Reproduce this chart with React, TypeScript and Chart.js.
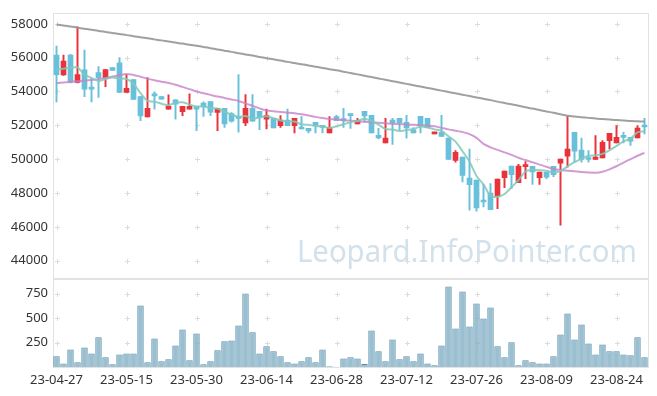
import React, { useEffect, useRef } from "react";
import { Chart, registerables } from "chart.js";

Chart.register(...registerables);

const dates = [
  "23-04-27","23-04-28","23-05-02","23-05-03","23-05-04","23-05-08","23-05-09","23-05-10","23-05-11","23-05-12",
  "23-05-15","23-05-16","23-05-17","23-05-18","23-05-19","23-05-22","23-05-23","23-05-24","23-05-25","23-05-26",
  "23-05-30","23-05-31","23-06-01","23-06-02","23-06-05","23-06-07","23-06-08","23-06-09","23-06-12","23-06-13",
  "23-06-14","23-06-15","23-06-16","23-06-19","23-06-20","23-06-21","23-06-22","23-06-23","23-06-26","23-06-27",
  "23-06-28","23-06-29","23-06-30","23-07-03","23-07-04","23-07-05","23-07-06","23-07-07","23-07-10","23-07-11",
  "23-07-12","23-07-13","23-07-14","23-07-17","23-07-18","23-07-19","23-07-20","23-07-21","23-07-24","23-07-25",
  "23-07-26","23-07-27","23-07-28","23-07-31","23-08-01","23-08-02","23-08-03","23-08-04","23-08-07","23-08-08",
  "23-08-09","23-08-10","23-08-11","23-08-14","23-08-16","23-08-17","23-08-18","23-08-21","23-08-22","23-08-23",
  "23-08-24","23-08-25","23-08-28","23-08-29","23-08-30",
];

const opens = [
  56150,54980,56150,54530,55280,54160,55120,54780,55410,55700,
  53940,54700,53700,52490,53800,53700,52960,53510,52800,52960,
  53120,53310,53410,52765,53000,52700,52440,52140,53000,52820,
  52370,52410,51980,52310,51980,51880,51820,52180,51900,51550,
  52510,52300,52700,52080,52820,52590,51410,50960,52310,52410,
  52180,51730,52530,52410,51490,51590,51240,49920,50120,48880,
  48770,47500,48000,47820,48900,49590,48610,49560,49570,48900,
  49240,49570,49770,50180,51590,50530,50000,49980,50080,51100,
  50960,51300,51290,51250,51920,
];

const highs = [
  56690,56150,56200,57820,56450,54770,55470,55290,55410,56000,
  55000,54700,53700,54820,53980,53700,53800,53510,53120,53860,
  53120,53390,53410,53000,53000,52760,55000,53820,53820,52820,
  52960,52410,52570,52960,52410,52510,51820,52180,52000,52510,
  52590,53000,52700,52410,52820,52590,51820,52410,52410,52410,
  52590,51860,52530,52410,51590,52590,51240,50510,50120,50600,
  48770,48510,48550,48820,49290,49590,49690,49860,49570,49240,
  49240,49570,50000,52530,51590,51240,50500,51390,51100,51530,
  51980,51590,51290,51980,52410,
];

const lows = [
  53390,54950,54500,54500,53690,53390,53650,54290,55250,53940,
  53940,53530,52280,52490,52960,53550,52960,52370,52570,52960,
  51690,52530,52570,51690,51880,52180,51590,51980,52240,51750,
  51780,51840,51880,51980,51550,51780,51550,51550,51550,51550,
  52280,51880,51820,52080,52180,51550,51190,50960,50870,51700,
  51240,51550,51550,51860,51490,51350,49980,49820,48650,46980,
  46920,47180,47020,47080,48310,48250,48610,48840,48510,48510,
  48840,48960,46100,49530,49820,49820,49820,49980,50080,50610,
  50960,50960,50810,51250,51490,
];

const closes = [
  55000,55800,54530,55000,54140,54140,54820,55290,55250,53940,
  54180,53530,52550,53000,53740,53550,53120,53250,53120,53120,
  52960,53120,52770,53000,52080,52240,52410,53000,52240,52470,
  52570,51840,52310,51980,52410,51780,51670,51980,51880,51880,
  52280,52280,52570,52290,52550,51550,51250,51240,52140,52140,
  51840,51550,51980,51860,51590,51350,49980,50410,49040,48490,
  47120,47470,47020,48820,49290,49080,49590,49590,49240,49240,
  48940,49080,50000,50590,50470,49980,49980,50120,51000,51530,
  51290,51290,51060,51840,51900,
];

const volumes = [
  109,37,180,48,200,139,303,99,27,129,
  139,139,629,48,292,58,78,221,384,68,
  343,27,58,170,262,272,425,751,354,139,
  211,160,109,48,37,58,99,48,180,7,
  3,88,99,88,31,374,160,58,282,78,
  109,58,139,37,17,221,823,394,772,415,
  649,496,609,211,99,252,17,68,48,37,
  37,109,333,547,282,435,241,129,231,160,
  160,129,119,303,99,
];

const ma5 = [
  55280,55350,55400,55420,55000,54800,54620,54740,54820,54760,
  54740,54460,53900,53450,53400,53280,53190,53330,53360,53230,
  53110,53110,53020,52990,52790,52640,52500,52550,52390,52470,
  52540,52420,52290,52230,52220,52060,52030,51960,51940,51840,
  51940,52060,52180,52260,52390,52250,52040,51780,51750,51660,
  51720,51780,51930,51870,51760,51670,51350,51040,50470,49850,
  49010,48510,47830,47780,47940,48340,48760,49270,49360,49350,
  49320,49220,49300,49570,49820,50020,50200,50230,50310,50520,
  50780,51050,51210,51580,51650,
];

const ma20 = [
  54490,54530,54570,54610,54640,54680,54730,54800,54880,54960,
  55040,54980,54870,54760,54660,54580,54500,54400,54270,54140,
  54000,53900,53800,53700,53620,53530,53440,53300,53150,53000,
  52880,52830,52790,52750,52710,52650,52580,52500,52430,52380,
  52340,52300,52270,52240,52210,52180,52150,52120,52090,52070,
  52050,52030,52010,51990,51940,51850,51760,51680,51600,51480,
  51260,50900,50700,50550,50400,50250,50080,49950,49820,49680,
  49550,49420,49360,49320,49280,49240,49210,49200,49260,49400,
  49580,49800,50000,50200,50370,
];

const ma120 = [
  57960,57900,57840,57770,57710,57650,57580,57520,57460,57400,
  57330,57270,57210,57140,57080,57020,56950,56890,56830,56760,
  56700,56630,56560,56480,56410,56340,56260,56190,56120,56040,
  55970,55900,55830,55750,55680,55610,55540,55460,55390,55320,
  55250,55170,55090,55010,54930,54850,54770,54690,54610,54530,
  54450,54370,54290,54210,54130,54050,53970,53890,53810,53730,
  53650,53570,53490,53400,53320,53240,53160,53070,52990,52900,
  52820,52740,52650,52570,52520,52480,52440,52400,52370,52340,
  52310,52290,52260,52240,52220,
];

const priceTicks = [44000, 46000, 48000, 50000, 52000, 54000, 56000, 58000];
const volumeTicks = [250, 500, 750];
const priceRange = [42950, 58650];
const volumeRange = [0, 905];
const labelEvery = 10;
const watermark = "Leopard.InfoPointer.com";

const UP = "#e8333b";
const DOWN = "#68c0da";
const FONT = '"Noto Sans", sans-serif';

const decorPlugin = {
  id: "decor",
  beforeDatasetsDraw(chart: any) {
    const { ctx, scales } = chart;
    const x = scales.x;
    const yp = scales.y;
    const yv = scales.yv;
    ctx.save();
    // watermark
    ctx.font = `31px ${FONT}`;
    ctx.fillStyle = "rgba(165,195,215,0.5)";
    ctx.textAlign = "left";
    ctx.textBaseline = "alphabetic";
    const wmLeft = x.left + 244;
    const wmWidth = x.right - 11 - wmLeft;
    const measured = ctx.measureText(watermark).width;
    ctx.translate(wmLeft, yp.bottom - 16);
    ctx.scale(wmWidth / measured, 1);
    ctx.fillText(watermark, 0, 0);
    ctx.setTransform(1, 0, 0, 1, 0, 0);
    // borders
    ctx.strokeStyle = "#e2e2e2";
    ctx.lineWidth = 1;
    ctx.strokeRect(Math.round(x.left) + 0.5, Math.round(yp.top) + 0.5, Math.round(x.right - x.left), Math.round(yp.bottom - yp.top));
    ctx.strokeRect(Math.round(x.left) + 0.5, Math.round(yv.top) + 0.5, Math.round(x.right - x.left), Math.round(yv.bottom - yv.top));
    // plus marks
    ctx.strokeStyle = "#dcdcdc";
    const plus = (px: number, py: number) => {
      px = Math.round(px) + 0.5;
      py = Math.round(py) + 0.5;
      ctx.beginPath();
      ctx.moveTo(px - 2.5, py);
      ctx.lineTo(px + 2.5, py);
      ctx.moveTo(px, py - 2.5);
      ctx.lineTo(px, py + 2.5);
      ctx.stroke();
    };
    for (let i = 0; i < dates.length; i += labelEvery) {
      const px = x.getPixelForValue(i);
      priceTicks.forEach((v) => plus(px, yp.getPixelForValue(v)));
      volumeTicks.forEach((v) => plus(px, yv.getPixelForValue(v)));
    }
    ctx.restore();
  },
};

export default function App() {
  const ref = useRef<HTMLCanvasElement | null>(null);

  useEffect(() => {
    document.body.style.margin = "0";
    const canvas = ref.current!;
    const colors = closes.map((c, i) => (c >= opens[i] ? UP : DOWN));
    const tickFont = { family: FONT, size: 13 };
    const plain = (v: any) => String(v);

    const chart = new Chart(canvas, {
      type: "bar",
      data: {
        labels: dates,
        datasets: [
          {
            type: "line",
            label: "MA5",
            data: ma5,
            yAxisID: "y",
            borderColor: "rgba(130,200,185,0.85)",
            borderWidth: 2,
            pointRadius: 0,
            tension: 0.3,
            order: 0,
          } as any,
          {
            type: "line",
            label: "MA20",
            data: ma20,
            yAxisID: "y",
            borderColor: "rgba(200,130,200,0.8)",
            borderWidth: 2,
            pointRadius: 0,
            tension: 0.3,
            order: 1,
          } as any,
          {
            type: "line",
            label: "MA120",
            data: ma120,
            yAxisID: "y",
            borderColor: "rgba(150,150,150,0.9)",
            borderWidth: 2,
            pointRadius: 0,
            tension: 0.3,
            order: 2,
          } as any,
          {
            label: "body",
            data: closes.map((c, i) => [opens[i], c]),
            yAxisID: "y",
            backgroundColor: colors,
            borderWidth: 0,
            barThickness: 5,
            minBarLength: 2,
            grouped: false,
            order: 3,
          } as any,
          {
            label: "wick",
            data: highs.map((h, i) => [lows[i], h]),
            yAxisID: "y",
            backgroundColor: colors,
            borderWidth: 0,
            barThickness: 1.3,
            grouped: false,
            order: 4,
          } as any,
          {
            label: "volume",
            data: volumes,
            yAxisID: "yv",
            backgroundColor: "rgba(140,182,202,0.88)",
            borderColor: "rgba(75,135,165,0.95)",
            borderWidth: 1,
            barPercentage: 0.92,
            categoryPercentage: 1,
            grouped: false,
            order: 5,
          } as any,
        ],
      },
      options: {
        animation: false,
        responsive: false,
        devicePixelRatio: 1,
        layout: { padding: { top: 10, right: 9, left: 0, bottom: 0 } },
        plugins: { legend: { display: false }, tooltip: { enabled: false } },
        scales: {
          x: {
            type: "category",
            offset: true,
            grid: { display: false, drawTicks: false },
            border: { display: false },
            ticks: {
              autoSkip: false,
              maxRotation: 0,
              padding: 5,
              color: "#333",
              font: tickFont,
              callback: (_v: any, idx: number) => (idx % labelEvery === 0 ? dates[idx] : null),
            },
            afterFit: (s: any) => {
              s.height = 29;
            },
          },
          yv: {
            type: "linear",
            position: "left",
            stack: "main",
            stackWeight: 1,
            min: volumeRange[0],
            max: volumeRange[1],
            grid: { display: false, drawTicks: false },
            border: { display: false },
            ticks: { padding: 5, color: "#333", font: tickFont, callback: plain },
            afterBuildTicks: (s: any) => {
              s.ticks = volumeTicks.map((v) => ({ value: v }));
            },
            afterFit: (s: any) => {
              s.width = 53;
            },
          },
          y: {
            type: "linear",
            position: "left",
            stack: "main",
            stackWeight: 3,
            min: priceRange[0],
            max: priceRange[1],
            grid: { display: false, drawTicks: false },
            border: { display: false },
            ticks: { padding: 5, color: "#333", font: tickFont, callback: plain },
            afterBuildTicks: (s: any) => {
              s.ticks = priceTicks.map((v) => ({ value: v }));
            },
            afterFit: (s: any) => {
              s.width = 53;
            },
          },
        } as any,
      },
      plugins: [decorPlugin],
    });
    return () => chart.destroy();
  }, []);

  return (
    <div style={{ position: "absolute", left: 0, top: 0, width: 657, height: 396, background: "#fff" }}>
      <canvas ref={ref} width={657} height={396} style={{ display: "block", width: 657, height: 396 }} />
    </div>
  );
}
